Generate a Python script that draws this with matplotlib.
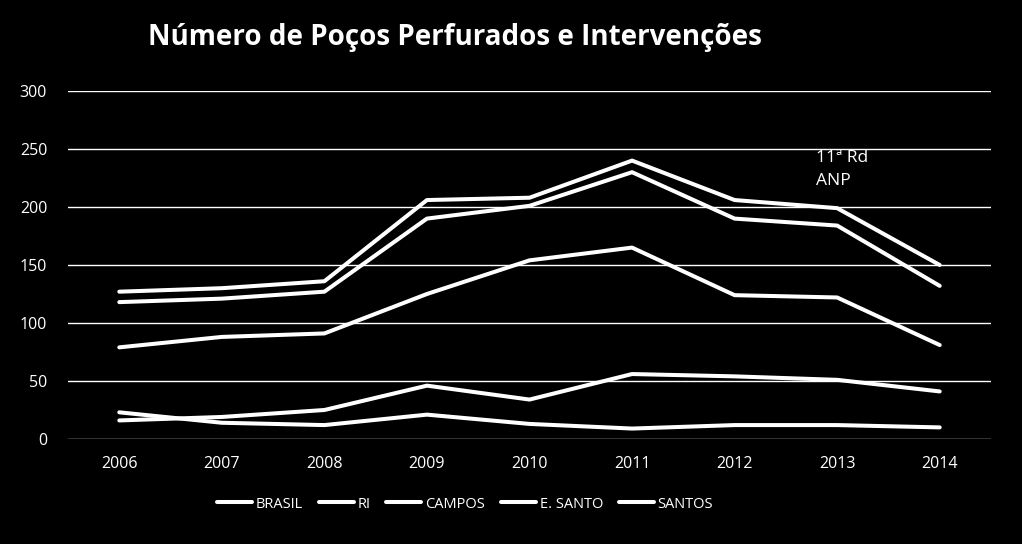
import matplotlib
matplotlib.use("Agg")
import matplotlib.pyplot as plt

years = ["2006", "2007", "2008", "2009", "2010", "2011", "2012", "2013", "2014"]
brasil = [127, 130, 136, 206, 208, 240, 206, 199, 150]
ri = [118, 121, 127, 190, 201, 230, 190, 184, 132]
campos = [79, 88, 91, 125, 154, 165, 124, 122, 81]
e_santo = [23, 14, 12, 21, 13, 9, 12, 12, 10]
santos = [16, 19, 25, 46, 34, 56, 54, 51, 41]
series_names = ["BRASIL", "RI", "CAMPOS", "E. SANTO", "SANTOS"]
yticks = [0, 50, 100, 150, 200, 250, 300]

plt.rcParams['font.family'] = ['Open Sans', 'DejaVu Sans']

fig = plt.figure(figsize=(10.22, 5.44), dpi=100, facecolor='black')
ax = fig.add_axes([68/1022, 1-439/544, (991-68)/1022, (439-91)/544])
ax.set_facecolor('black')

x = list(range(len(years)))
for name, vals in zip(series_names, [brasil, ri, campos, e_santo, santos]):
    ax.plot(x, vals, color='white', lw=2.9, solid_capstyle='round',
            solid_joinstyle='round', label=name, zorder=3)

ax.set_xlim(-0.5, len(years) - 0.5)
ax.set_ylim(0, 300)
ax.set_yticks(yticks)
ax.set_yticklabels([str(v) for v in yticks])
ax.set_xticks(x)
ax.set_xticklabels(years)
ax.yaxis.grid(True, color='white', lw=1.0)
ax.set_axisbelow(True)
for s in ax.spines.values():
    s.set_visible(False)
ax.tick_params(axis='both', length=0, colors='white', labelsize=11.5)
ax.tick_params(axis='y', pad=15)
ax.tick_params(axis='x', pad=12)

fig.text(148/1022, 1-37/544, "Número de Poços Perfurados e Intervenções",
         color='white', fontsize=20, fontweight='bold', va='center', ha='left')

ax.text(7 - 0.21, 249, "11ª Rd\nANP", color='white', fontsize=12.5,
        va='top', ha='left', linespacing=1.55)

leg = fig.legend(loc='center', bbox_to_anchor=(465/1022, 1-504/544), ncol=5,
                 frameon=False, fontsize=10.5, handlelength=2.4,
                 handletextpad=0.25, columnspacing=1.1, labelcolor='white')
for h in leg.legend_handles:
    h.set_linewidth(2.9)

fig.savefig("out.png", dpi=100, facecolor='black')
